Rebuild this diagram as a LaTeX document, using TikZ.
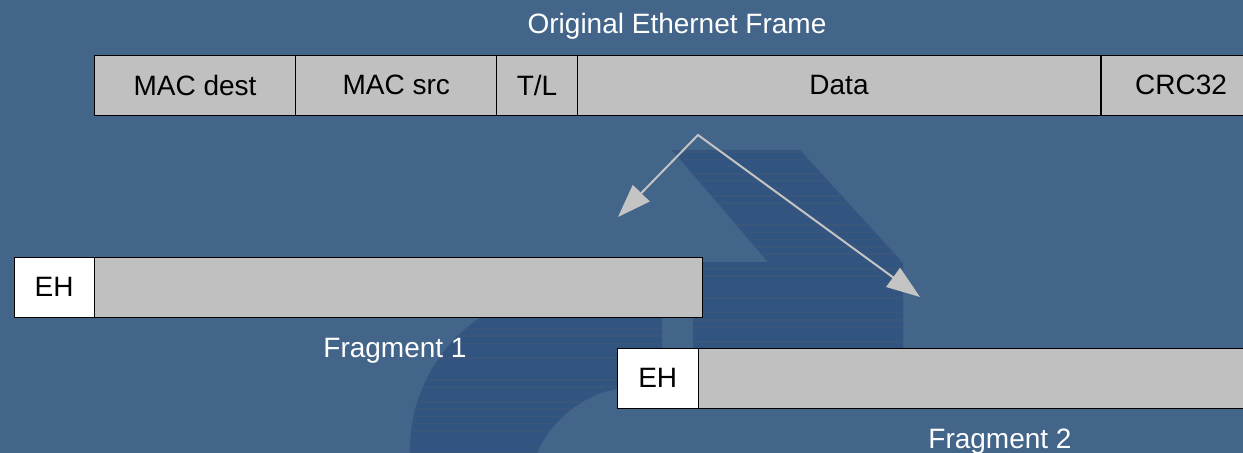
\documentclass[tikz,border=0pt]{standalone}
\usepackage{fontspec}
\setmainfont{Liberation Sans}
\usetikzlibrary{arrows.meta}
\definecolor{bgblue}{RGB}{67,101,137}
\definecolor{markblue}{RGB}{50,84,128}
\definecolor{markline}{RGB}{59,86,123}
\definecolor{cellgray}{RGB}{192,192,192}
\definecolor{arrowgray}{RGB}{196,196,196}
\begin{document}
\begin{tikzpicture}[x=0.75pt,y=-0.75pt,
  every node/.style={font=\fontsize{21}{25}\selectfont},
  cell/.style={draw=black, line width=0.75pt, fill=cellgray, inner sep=0pt,
               outer sep=0pt, minimum height=45pt, text=black},
  header/.style={cell, fill=white},
  caption/.style={text=white, anchor=base, inner sep=0pt},
  emblem/.style={fill=markblue},
  stripes/.style={draw=markline, line width=1.1pt},
  split/.style={draw=arrowgray, line width=1.5pt, line join=miter,
                {Triangle[length=25pt,width=17.5pt]}-{Triangle[length=25pt,width=17.5pt]}}
]
\useasboundingbox (0,0) rectangle (1243,453);
\clip (0,0) rectangle (1243,453);
\fill[bgblue] (0,0) rectangle (1243,453);

% faint background emblem: slanted stroke with stem
\begin{scope}
  \clip (672,150) -- (800,150) -- (903,263) -- (903,380) -- (693,380)
        -- (693,262) -- (768,262) -- cycle;
  \fill[emblem] (600,140) rectangle (920,390);
  \foreach \yy in {152,159.3,...,390} \draw[stripes] (600,\yy) -- (920,\yy);
\end{scope}
% faint background emblem: bowl
\begin{scope}
  \clip (380,280) rectangle (662,453);
  \clip (570,450) circle[radius=160];
  \fill[emblem] (380,280) rectangle (662,453);
  \foreach \yy in {285,292.3,...,453} \draw[stripes] (380,\yy) -- (662,\yy);
\end{scope}
\fill[bgblue] (638,497) circle[radius=110];

% original frame
\node[caption] (title) at (677,34) {Original Ethernet Frame};
\node[cell, minimum width=151pt]    (dest) at (195,85.3)   {MAC dest};
\node[cell, minimum width=150.75pt] (src)  at (396.2,85.3) {MAC src};
\node[cell, minimum width=60.45pt]  (tl)   at (537,85.3)   {T/L};
\node[cell, minimum width=392.55pt] (data) at (839,85.3)   {Data};
\node[cell, minimum width=120pt]    (crc)  at (1181,85.3)  {CRC32};

% split arrows
\coordinate (fork) at (698,135);
\coordinate (to1) at (618,217);
\coordinate (to2) at (920,297);
\draw[split] (to1) -- (fork) -- (to2);

% fragment 1
\node[header, minimum width=60.2pt] (eh1) at (54.15,287.3) {EH};
\node[cell, minimum width=455.8pt, anchor=west] (pay1) at (eh1.east) {};
\node[caption] (f1) at (395,357) {Fragment 1};

% fragment 2
\node[header, minimum width=60.4pt] (eh2) at (657.75,378.3) {EH};
\node[cell, minimum width=456pt, anchor=west] (pay2) at (eh2.east) {};
\node[caption] (f2) at (1000,448) {Fragment 2};
\end{tikzpicture}
\end{document}
